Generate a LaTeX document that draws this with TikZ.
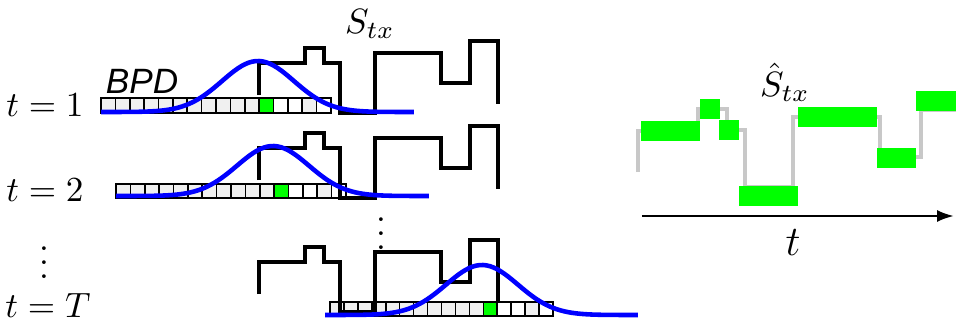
\documentclass[tikz,border=0pt]{standalone}
\usepackage{amsmath}
\usepackage{fontspec}
\usepackage{tikz}
\usetikzlibrary{arrows.meta}
\newfontfamily\bpdfont{Liberation Sans}
\definecolor{bright}{RGB}{0,255,0}
\definecolor{cellgray}{RGB}{240,240,240}
\definecolor{trackgray}{RGB}{200,200,200}

\begin{document}
\begin{tikzpicture}[x=0.01cm, y=-0.01cm, every node/.style={font=\normalsize}, cell/.style={draw,line width=0.45pt,fill=cellgray}, stair/.style={line width=1.15pt}, bpd/.style={blue,line width=1.3pt}, truth/.style={trackgray,line width=1.1pt}, arr/.style={-{Latex[length=4.8pt,width=3.4pt]},line width=0.7pt}]
\useasboundingbox (0,0) rectangle (956,324);
% bin rows
\foreach \bx/\by/\bw/\bh in {101/98/14.375/15, 116/184/14.375/14, 330/302/13.94/14} {
  \foreach \i in {0,...,15} \draw[cell] ({\bx+\i*\bw},\by) rectangle ++(\bw,\bh);
  \foreach \i/\f in {11/bright,12/white,13/white,15/white} \draw[cell,fill=\f] ({\bx+\i*\bw},\by) rectangle ++(\bw,\bh);
}
% signal
\foreach \dy in {0,85,199}
  \draw[stair,shift={(0,\dy)}] (259,95) |- (305,63) |- (324,48) |- (340,63) |- (375,113) |- (441,53) |- (470,83) |- (498,41) -- (498,104);
% belief curves
\foreach \m/\b/\a in {258/112/51, 273/196/50, 482/315/50}
  \draw[bpd] plot[domain=-4.36:4.33,samples=90,smooth] ({\m+36*\x},{\b-\a*exp(-\x*\x/2)});
\node (t1) at (45,105) {$t=1$};
\node (t2) at (45,190) {$t=2$};
\node (tdots) at (44,252) {$\vdots$};
\node (tT) at (48,305) {$t=T$};
\node (bpd) at (142,81) {\bpdfont\itshape BPD};
\node (stx) at (370,24) {$S_{tx}$};
\node (sdots) at (381,223) {$\vdots$};
% estimate
\draw[truth] (638,172) |- (698,131) |- (727,109) |- (745,130) |- (793,187) |- (880,117) |- (921,157) |- (956,110);
\foreach \xa/\ya/\xb/\yb in {641/121/700/141, 700/99/720/119, 719/120/739/140, 739/186/798/206, 798/107/877/127, 877/148/916/168, 916/91/956/111}
  \fill[bright] (\xa,\ya) rectangle (\xb,\yb);
\node (shat) at (785,82) {$\hat{S}_{tx}$};
\coordinate (t0) at (642,216);
\coordinate (tend) at (954,216);
\draw[arr] (t0) -- (tend);
\node[font=\fontsize{13}{15}\selectfont] (tlab) at (793,243) {$t$};
\end{tikzpicture}
\end{document}
